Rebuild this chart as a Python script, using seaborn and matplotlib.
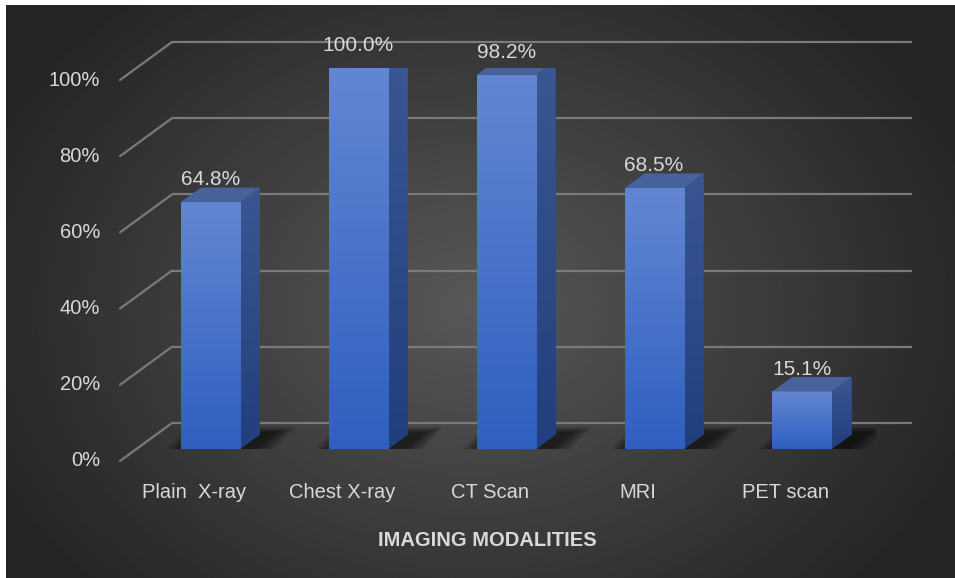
import numpy as np
import pandas as pd
import matplotlib
matplotlib.use('Agg')
import matplotlib.pyplot as plt
import matplotlib.transforms as mtransforms
from matplotlib.colors import LinearSegmentedColormap
from matplotlib.patches import Polygon
import seaborn as sns

# data
modalities = ['Plain  X-ray', 'Chest X-ray', 'CT Scan', 'MRI', 'PET scan']
percent = [64.8, 100.0, 98.2, 68.5, 15.1]
y_ticks = [0, 20, 40, 60, 80, 100]
x_title = 'IMAGING MODALITIES'

df = pd.DataFrame({'modality': modalities, 'percent': percent})

sns.set_theme(style='white')
plt.rcParams['font.family'] = ['Liberation Sans', 'DejaVu Sans']

W, H = 955, 578
fig = plt.figure(figsize=(W / 100, H / 100), dpi=100, facecolor='white')

# dark radial background
bg = fig.add_axes([6 / W, 0, (W - 6) / W, (H - 5) / H])
gx, gy = np.meshgrid(np.linspace(-1, 1, 480), np.linspace(-1, 1, 290))
r = np.sqrt((gx + 0.02) ** 2 + ((gy - 0.05) * 0.78) ** 2)
shade = np.clip(0.345 - 0.18 * r, 0.145, 1)
bg.imshow(shade, cmap='gray', vmin=0, vmax=1, aspect='auto', interpolation='bilinear')
bg.axis('off')

# main axes = front face plane of the bars
ax = fig.add_axes([136.4 / W, (H - 449) / H, (876 - 136.4) / W, 381 / H])
ax.patch.set_alpha(0)
sns.barplot(data=df, x='modality', y='percent', color='#4472c4', width=0.4,
            saturation=1, edgecolor='none', linewidth=0, ax=ax, zorder=3)
ax.set_xlim(-0.5, 4.5)
ax.set_ylim(0, 100)
ax.set_xticks([])
ax.set_yticks([])
ax.set_xlabel('')
ax.set_ylabel('')
sns.despine(ax=ax, left=True, bottom=True)

# pixel -> data units
ux = 5 / (876 - 136.4)
uy = 100 / 381

back = mtransforms.offset_copy(ax.transData, fig, x=35.6, y=26, units='dots')
front = mtransforms.offset_copy(ax.transData, fig, x=-16.4, y=-12, units='dots')

# back wall gridlines + side lines + y labels
grid_c = '#7a7a7a'
txt_c = '#d9d9d9'
ax.hlines(y_ticks, -0.5, 4.5, colors=grid_c, lw=1.6, transform=back, zorder=1, clip_on=False)
for t in y_ticks:
    ax.plot([-0.5 - 16.4 * ux, -0.5 + 35.6 * ux], [t - 12 * uy, t + 26 * uy],
            color=grid_c, lw=1.6, zorder=1, clip_on=False)
    ax.text(-0.5 - 36.4 * ux, t - 12 * uy, f'{t}%', ha='right', va='center',
            color=txt_c, fontsize=14.5, clip_on=False)

# category labels on the front edge of the floor
for i, name in enumerate(modalities):
    ax.text(i, -32 * uy, name, transform=front, ha='center', va='center', color=txt_c,
            fontsize=14.5, clip_on=False)

fig.text(487 / W, 1 - 540 / H, x_title, ha='center', va='center', color=txt_c,
         fontsize=14.5, fontweight='bold')

# 3d faces, gradients, shadows
dx, dy = 20 * ux, 14.5 * uy
grad = np.linspace(0, 1, 100).reshape(-1, 1)
front_cm = LinearSegmentedColormap.from_list('f', ['#2f5fc0', '#6386d2'])
side_cm = LinearSegmentedColormap.from_list('s', ['#213f7c', '#3a5793'])
for bar, val in zip(ax.patches, percent):
    x0 = bar.get_x()
    x1 = x0 + bar.get_width()
    h = bar.get_height()
    # soft floor shadow
    for k in range(9):
        e = (8 - k) * 2.2
        sh = Polygon([(x0 - (4 + e) * ux, (-3 - e * 0.3) * uy),
                      (x1 + (10 + e) * ux, (-3 - e * 0.3) * uy),
                      (x1 + dx + (18 + e) * ux, dy + (2 + e * 0.3) * uy),
                      (x0 + dx + (4 - e) * ux, dy + (2 + e * 0.3) * uy)],
                     closed=True, facecolor='black', edgecolor='none', alpha=0.08, zorder=2)
        ax.add_patch(sh)
    # front gradient
    im = ax.imshow(grad, cmap=front_cm, extent=[x0, x1, 0, h], origin='lower',
                   aspect='auto', zorder=3.5)
    im.set_clip_path(bar)
    side = Polygon([(x1, 0), (x1 + dx, dy), (x1 + dx, h + dy), (x1, h)], closed=True,
                   facecolor='#2a4a8a', edgecolor='none', zorder=3)
    ax.add_patch(side)
    im2 = ax.imshow(grad, cmap=side_cm, extent=[x1, x1 + dx, 0, h + dy], origin='lower',
                    aspect='auto', zorder=3.4)
    im2.set_clip_path(side)
    top = Polygon([(x0, h), (x1, h), (x1 + dx, h + dy), (x0 + dx, h + dy)], closed=True,
                  facecolor='#48639c', edgecolor='none', zorder=3.6)
    ax.add_patch(top)
    ax.annotate(f'{val:.1f}%', xy=(x0 + bar.get_width() / 2, h), xytext=(0, 12.2),
                textcoords='offset points', ha='center', va='baseline',
                color=txt_c, fontsize=15, zorder=5)

ax.set_xlim(-0.5, 4.5)
ax.set_ylim(0, 100)

fig.savefig('out.png', dpi=100, facecolor='white')
